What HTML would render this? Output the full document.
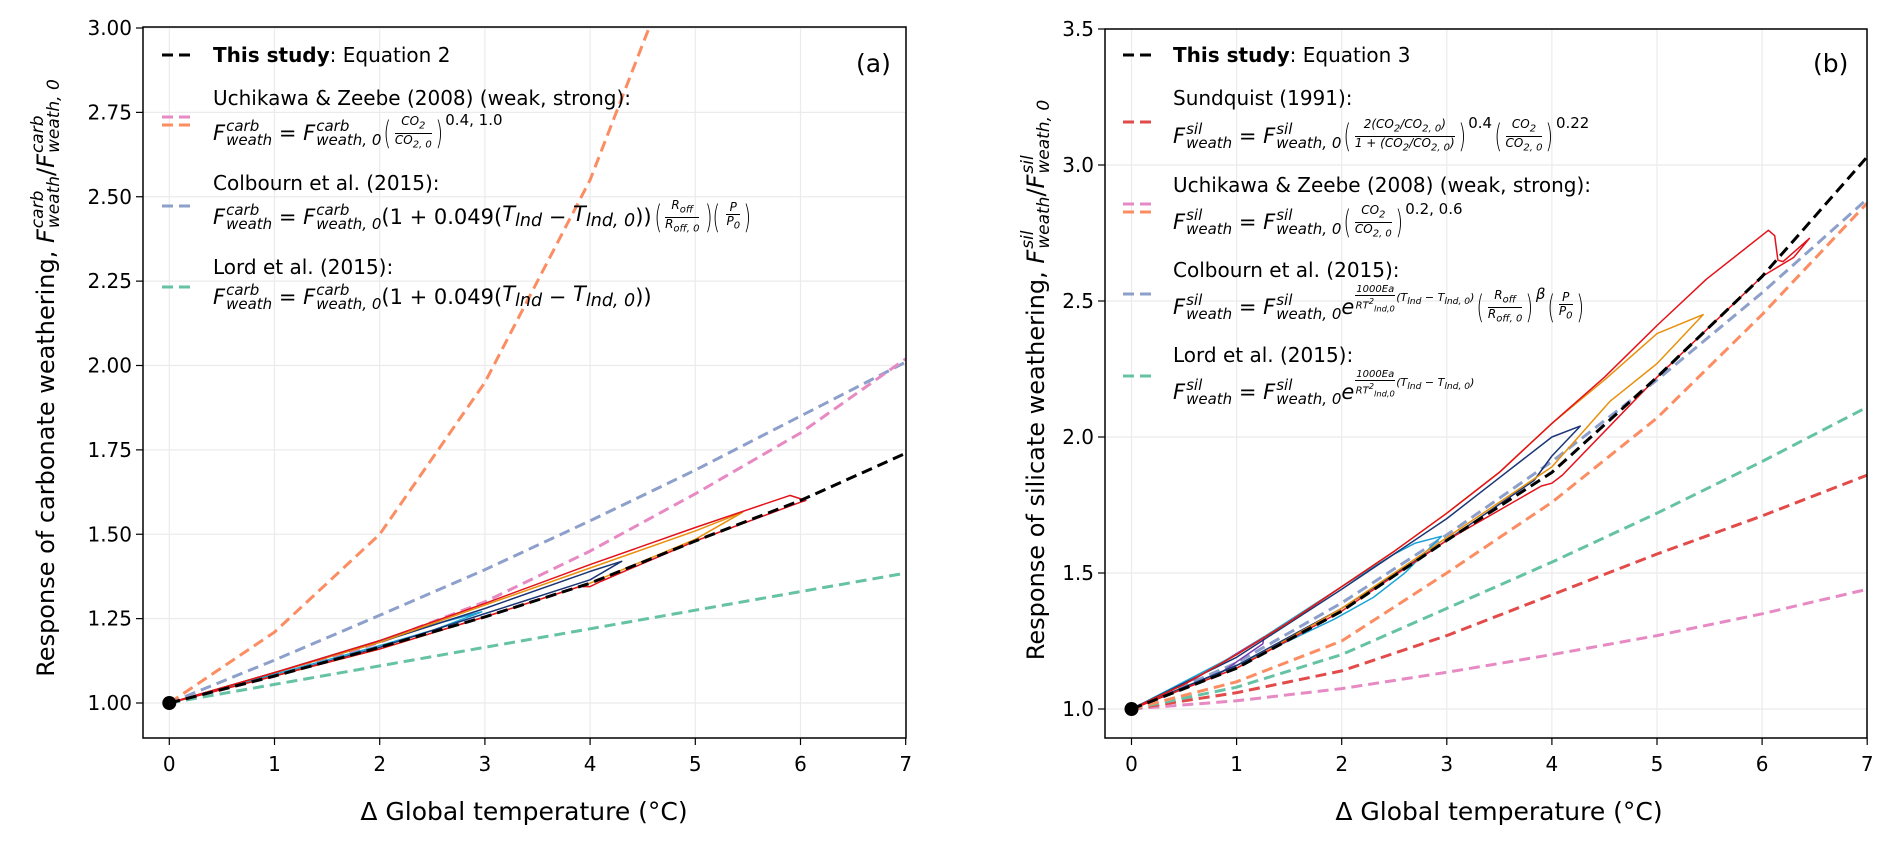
<!DOCTYPE html>
<html><head><meta charset="utf-8">
<style>
body{margin:0;background:#fff;}
#wrap{position:relative;width:1892px;height:845px;overflow:hidden;font-family:"DejaVu Sans","Liberation Sans",sans-serif;color:#000;}
svg{position:absolute;left:0;top:0;}
.leg{position:absolute;font-size:20px;white-space:nowrap;line-height:1;}
.f{position:absolute;font-size:21px;white-space:nowrap;line-height:1;display:flex;align-items:center;}
.i{font-style:italic;}
.ss{display:inline-flex;flex-direction:column;font-size:15px;font-style:italic;line-height:14px;vertical-align:middle;margin-left:1px;}
.fr{display:inline-flex;flex-direction:column;font-size:12px;font-style:italic;text-align:center;line-height:13px;vertical-align:middle;margin:0 1px;}
.fr span:first-child{border-bottom:1px solid #000;padding:0 1px;}
.p{font-size:32px;font-weight:200;transform:scaleX(0.6);display:inline-block;}
.sup{font-size:15px;align-self:flex-start;margin-top:-2px;}
.ylab{position:absolute;font-size:24px;white-space:nowrap;transform-origin:center;transform:translate(-50%,-50%) rotate(-90deg);display:flex;align-items:center;}
.ylab .ss{font-size:17px;line-height:16px;}
.ex{display:inline-flex;align-items:center;align-self:flex-start;margin-top:-4px;font-size:11px;}
.ex .fr{font-size:10px;line-height:10px;}
</style></head>
<body>
<div id="wrap">
<svg id="chart" width="1892" height="845"></svg>

<!-- Panel a legend -->
<div class="leg" style="left:213px;top:45px"><b>This study</b>: Equation 2</div>
<div class="leg" style="left:213px;top:88px">Uchikawa &amp; Zeebe (2008) (weak, strong):</div>
<div class="f" style="left:213px;top:115px;height:36px"><span class="i">F</span><span class="ss"><span>carb</span><span>weath</span></span>&nbsp;=&nbsp;<span class="i">F</span><span class="ss"><span>carb</span><span>weath, 0</span></span><span class="p">(</span><span class="fr"><span>CO<sub>2</sub></span><span>CO<sub>2, 0</sub></span></span><span class="p">)</span><span class="sup">0.4, 1.0</span></div>
<div class="leg" style="left:213px;top:173px">Colbourn et al. (2015):</div>
<div class="f" style="left:213px;top:199px;height:36px"><span class="i">F</span><span class="ss"><span>carb</span><span>weath</span></span>&nbsp;=&nbsp;<span class="i">F</span><span class="ss"><span>carb</span><span>weath, 0</span></span>(1 + 0.049(<span class="i">T<sub>lnd</sub></span>&nbsp;−&nbsp;<span class="i">T<sub>lnd, 0</sub></span>))<span class="p">(</span><span class="fr"><span>R<sub>off</sub></span><span>R<sub>off, 0</sub></span></span><span class="p">)(</span><span class="fr"><span>P</span><span>P<sub>0</sub></span></span><span class="p">)</span></div>
<div class="leg" style="left:213px;top:257px">Lord et al. (2015):</div>
<div class="f" style="left:213px;top:279px;height:36px"><span class="i">F</span><span class="ss"><span>carb</span><span>weath</span></span>&nbsp;=&nbsp;<span class="i">F</span><span class="ss"><span>carb</span><span>weath, 0</span></span>(1 + 0.049(<span class="i">T<sub>lnd</sub></span>&nbsp;−&nbsp;<span class="i">T<sub>lnd, 0</sub></span>))</div>
<div class="leg" style="left:856px;top:51px;font-size:25px">(a)</div>

<!-- Panel b legend -->
<div class="leg" style="left:1173px;top:45px"><b>This study</b>: Equation 3</div>
<div class="leg" style="left:1173px;top:88px">Sundquist (1991):</div>
<div class="f" style="left:1173px;top:118px;height:36px"><span class="i">F</span><span class="ss"><span>sil</span><span>weath</span></span>&nbsp;=&nbsp;<span class="i">F</span><span class="ss"><span>sil</span><span>weath, 0</span></span><span class="p">(</span><span class="fr"><span>2(CO<sub>2</sub>/CO<sub>2, 0</sub>)</span><span>1 + (CO<sub>2</sub>/CO<sub>2, 0</sub>)</span></span><span class="p">)</span><span class="sup">0.4</span><span class="p">(</span><span class="fr"><span>CO<sub>2</sub></span><span>CO<sub>2, 0</sub></span></span><span class="p">)</span><span class="sup">0.22</span></div>
<div class="leg" style="left:1173px;top:175px">Uchikawa &amp; Zeebe (2008) (weak, strong):</div>
<div class="f" style="left:1173px;top:204px;height:36px"><span class="i">F</span><span class="ss"><span>sil</span><span>weath</span></span>&nbsp;=&nbsp;<span class="i">F</span><span class="ss"><span>sil</span><span>weath, 0</span></span><span class="p">(</span><span class="fr"><span>CO<sub>2</sub></span><span>CO<sub>2, 0</sub></span></span><span class="p">)</span><span class="sup">0.2, 0.6</span></div>
<div class="leg" style="left:1173px;top:260px">Colbourn et al. (2015):</div>
<div class="f" style="left:1173px;top:289px;height:36px"><span class="i">F</span><span class="ss"><span>sil</span><span>weath</span></span>&nbsp;=&nbsp;<span class="i">F</span><span class="ss"><span>sil</span><span>weath, 0</span></span><span class="i">e</span><span class="ex"><span class="fr"><span>1000<i>Ea</i></span><span>RT<sup>2</sup><sub>lnd,0</sub></span></span><span class="i">(T<sub>lnd</sub> − T<sub>lnd, 0</sub>)</span></span><span class="p">(</span><span class="fr"><span>R<sub>off</sub></span><span>R<sub>off, 0</sub></span></span><span class="p">)</span><span class="sup i">β</span><span class="p">(</span><span class="fr"><span>P</span><span>P<sub>0</sub></span></span><span class="p">)</span></div>
<div class="leg" style="left:1173px;top:345px">Lord et al. (2015):</div>
<div class="f" style="left:1173px;top:374px;height:36px"><span class="i">F</span><span class="ss"><span>sil</span><span>weath</span></span>&nbsp;=&nbsp;<span class="i">F</span><span class="ss"><span>sil</span><span>weath, 0</span></span><span class="i">e</span><span class="ex"><span class="fr"><span>1000<i>Ea</i></span><span>RT<sup>2</sup><sub>lnd,0</sub></span></span><span class="i">(T<sub>lnd</sub> − T<sub>lnd, 0</sub>)</span></span></div>
<div class="leg" style="left:1813px;top:51px;font-size:25px">(b)</div>

<!-- axis titles -->
<div class="ylab" style="left:46px;top:378px">Response of carbonate weathering,&nbsp;<span class="i">F</span><span class="ss"><span>carb</span><span>weath</span></span>/<span class="i">F</span><span class="ss"><span>carb</span><span>weath, 0</span></span></div>
<div class="ylab" style="left:1036px;top:380px">Response of silicate weathering,&nbsp;<span class="i">F</span><span class="ss"><span>sil</span><span>weath</span></span>/<span class="i">F</span><span class="ss"><span>sil</span><span>weath, 0</span></span></div>
<div class="leg" style="left:524px;top:799px;font-size:25px;transform:translateX(-50%)">Δ Global temperature (°C)</div>
<div class="leg" style="left:1499px;top:799px;font-size:25px;transform:translateX(-50%)">Δ Global temperature (°C)</div>
</div>

<script>
// ---------- data: panel a ----------
const xs = [0,1,2,3,4,5,6,7];
const aStudy = [1,1.08,1.165,1.255,1.355,1.48,1.60,1.74];
const aUZweak = [1,1.079,1.18,1.30,1.45,1.62,1.80,2.02];
const aUZstrongX = [0,1,2,3,4,4.56];
const aUZstrong = [1,1.21,1.50,1.95,2.55,3.0];
const aColbourn = [1,1.127,1.26,1.395,1.54,1.69,1.85,2.01];
const aLord = [1,1.055,1.11,1.165,1.22,1.275,1.33,1.385];
const aLoopRedX = [0,1,2,3,4,5,5.9,6.05,6.0,5,4.1,4,3.9,3,2,1,0];
const aLoopRedY = [1,1.09,1.185,1.295,1.41,1.52,1.615,1.60,1.595,1.48,1.36,1.345,1.345,1.255,1.16,1.08,1];
const aLoopOrX = [0,1,2,3,4,5,5.45,5,4,3,2,1,0];
const aLoopOrY = [1,1.09,1.18,1.29,1.40,1.51,1.565,1.485,1.355,1.255,1.16,1.08,1];
const aLoopNavyX = [0,1,2,3,4,4.3,4,3,2,1,0];
const aLoopNavyY = [1,1.09,1.18,1.28,1.39,1.42,1.365,1.265,1.165,1.08,1];
const aLoopCyanX = [0,1,2,2.6,2.97,2.5,2,1,0];
const aLoopCyanY = [1,1.09,1.185,1.24,1.27,1.215,1.17,1.085,1];
const aLoopPurX = [0,0.5,1.0,0.7,0.3,0];
const aLoopPurY = [1,1.045,1.09,1.06,1.025,1];
const aYTicks = [1.00,1.25,1.50,1.75,2.00,2.25,2.50,2.75,3.00];
const aYTickLabels = ["1.00","1.25","1.50","1.75","2.00","2.25","2.50","2.75","3.00"];
// ---------- data: panel b ----------
const bStudy = [1,1.15,1.36,1.62,1.87,2.22,2.59,3.03];
const bSundquist = [1,1.06,1.14,1.27,1.42,1.57,1.71,1.86];
const bUZweak = [1,1.03,1.075,1.135,1.20,1.27,1.35,1.44];
const bUZstrong = [1,1.10,1.25,1.50,1.76,2.07,2.45,2.86];
const bColbourn = [1,1.17,1.39,1.64,1.91,2.21,2.53,2.875];
const bLord = [1,1.08,1.20,1.37,1.54,1.72,1.91,2.11];
const bLoopRedX = [0,0.5,1,1.5,2,2.5,3,3.5,4,4.5,5,5.47,6.06,6.12,6.15,6.2,6.45,6.3,6,5,4.1,4.0,3.9,3,2,1,0];
const bLoopRedY = [1,1.09,1.20,1.32,1.45,1.58,1.72,1.87,2.05,2.22,2.41,2.58,2.76,2.74,2.65,2.645,2.73,2.66,2.59,2.22,1.86,1.83,1.82,1.62,1.36,1.15,1];
const bLoopOrX = [0,0.5,1,1.5,2,2.5,3,3.5,4,4.5,5,5.44,5,4.55,4,3,2,1,0];
const bLoopOrY = [1,1.09,1.20,1.32,1.45,1.58,1.72,1.87,2.05,2.21,2.38,2.45,2.27,2.13,1.89,1.63,1.37,1.15,1];
const bLoopNavyX = [0,1,2,3,3.5,4,4.27,4,3.83,3,2,1,0];
const bLoopNavyY = [1,1.19,1.44,1.70,1.85,2.00,2.04,1.93,1.84,1.62,1.37,1.16,1];
const bLoopCyanX = [0,1,2,2.5,2.7,2.95,2.6,2.3,1.93,1,0];
const bLoopCyanY = [1,1.20,1.45,1.57,1.61,1.635,1.50,1.41,1.33,1.16,1];
const bLoopPurX = [0,0.6,1.26,1.25,0.8,0];
const bLoopPurY = [1,1.11,1.265,1.24,1.12,1];
const bYTicks = [1.0,1.5,2.0,2.5,3.0,3.5];
const bYTickLabels = ["1.0","1.5","2.0","2.5","3.0","3.5"];
const xTickLabels = ["0","1","2","3","4","5","6","7"];

const NS = "http://www.w3.org/2000/svg";
const svg = document.getElementById('chart');
function mk(tag, attrs, parent){const e=document.createElementNS(NS,tag);for(const k in attrs)e.setAttribute(k,attrs[k]);(parent||svg).appendChild(e);return e;}

const A = {x0:169.3, ux:105.2, y1:703, uy:337.5, left:143, right:906, top:27, bottom:738};
const B = {x0:1131.5, ux:105.1, y1:709, uy:272, left:1105, right:1867, top:29, bottom:738};
function X(P,v){return P.x0+v*P.ux;}
function Y(P,v){return P.y1-(v-1)*P.uy;}

function panel(P, yt, ytl, name){
  const g = mk('g',{});
  
  
  xs.forEach((v,i)=>{
    const x=X(P,v);
    const gl=mk('line',{x1:x,x2:x,y1:P.top,y2:P.bottom,stroke:'#ebebeb','stroke-width':1.2},g);
    
    
    mk('line',{x1:x,x2:x,y1:P.bottom,y2:P.bottom+7,stroke:'#000','stroke-width':1.2},g);
    const t=mk('text',{x:x,y:P.bottom+33,'text-anchor':'middle','font-size':20,'font-family':'DejaVu Sans, Liberation Sans, sans-serif'},g);
    t.textContent=xTickLabels[i];
    
    
  });
  yt.forEach((v,i)=>{
    const y=Y(P,v);
    const gl=mk('line',{x1:P.left,x2:P.right,y1:y,y2:y,stroke:'#ebebeb','stroke-width':1.2},g);
    
    
    mk('line',{x1:P.left-7,x2:P.left,y1:y,y2:y,stroke:'#000','stroke-width':1.2},g);
    const t=mk('text',{x:P.left-11,y:y+7,'text-anchor':'end','font-size':20,'font-family':'DejaVu Sans, Liberation Sans, sans-serif'},g);
    t.textContent=ytl[i];
    
    
  });
}
function clip(P,id){const d=mk('clipPath',{id:id});mk('rect',{x:P.left,y:P.top,width:P.right-P.left,height:P.bottom-P.top},d);}
function line(P, xv, yv, color, dashed, name, cid){
  const d = xv.map((x,i)=>(i?'L':'M')+X(P,x).toFixed(1)+','+Y(P,yv[i]).toFixed(1)).join(' ');
  const p = mk('path',{d:d,fill:'none',stroke:color,'stroke-width':dashed?3:1.5,'stroke-dasharray':dashed?'11 6':'none','stroke-linejoin':'round','clip-path':'url(#'+cid+')'});
  
  
}
function legendLine(x,y,color,name){
  const l=mk('line',{x1:x,x2:x+34,y1:y,y2:y,stroke:color,'stroke-width':3,'stroke-dasharray':'11 6'});
  
  
}
function frame(P,name){
  const r=mk('rect',{x:P.left,y:P.top,width:P.right-P.left,height:P.bottom-P.top,fill:'none',stroke:'#000','stroke-width':1.5});
  
  
}

clip(A,'ca'); clip(B,'cb');
panel(A,aYTicks,aYTickLabels,'panel-a');
panel(B,bYTicks,bYTickLabels,'panel-b');

// panel a series
line(A,xs,aLord,'#66c2a5',true,'lord-line-a','ca');
line(A,xs,aColbourn,'#8da0cb',true,'colbourn-line-a','ca');
line(A,xs,aUZweak,'#e78ac3',true,'uchikawa-weak-line-a','ca');
line(A,aUZstrongX,aUZstrong,'#fc8d62',true,'uchikawa-strong-line-a','ca');
line(A,aLoopPurX,aLoopPurY,'#7b3fb5',false,'loop-purple-a','ca');
line(A,aLoopCyanX,aLoopCyanY,'#1ba3d6',false,'loop-cyan-a','ca');
line(A,aLoopNavyX,aLoopNavyY,'#1b3575',false,'loop-navy-a','ca');
line(A,aLoopOrX,aLoopOrY,'#e8900c',false,'loop-orange-a','ca');
line(A,aLoopRedX,aLoopRedY,'#e3121a',false,'loop-red-a','ca');
line(A,xs,aStudy,'#000',true,'this-study-line-a','ca');

// panel b series
line(B,xs,bUZweak,'#e78ac3',true,'uchikawa-weak-line-b','cb');
line(B,xs,bSundquist,'#e34a4a',true,'sundquist-line-b','cb');
line(B,xs,bLord,'#66c2a5',true,'lord-line-b','cb');
line(B,xs,bUZstrong,'#fc8d62',true,'uchikawa-strong-line-b','cb');
line(B,xs,bColbourn,'#8da0cb',true,'colbourn-line-b','cb');
line(B,bLoopPurX,bLoopPurY,'#7b3fb5',false,'loop-purple-b','cb');
line(B,bLoopCyanX,bLoopCyanY,'#1ba3d6',false,'loop-cyan-b','cb');
line(B,bLoopNavyX,bLoopNavyY,'#1b3575',false,'loop-navy-b','cb');
line(B,bLoopOrX,bLoopOrY,'#e8900c',false,'loop-orange-b','cb');
line(B,bLoopRedX,bLoopRedY,'#e3121a',false,'loop-red-b','cb');
line(B,xs,bStudy,'#000',true,'this-study-line-b','cb');

// origin dots
[A,B].forEach((P)=>{
  const c=mk('circle',{cx:X(P,0),cy:Y(P,1),r:7,fill:'#000'});
  
  
});
frame(A,'panel-a'); frame(B,'panel-b');

// legend markers
legendLine(162,55,'#000','legend-marker-study-a');
legendLine(162,117,'#e78ac3','legend-marker-uz-weak-a');
legendLine(162,125,'#fc8d62','legend-marker-uz-strong-a');
legendLine(162,206,'#8da0cb','legend-marker-colbourn-a');
legendLine(162,287,'#66c2a5','legend-marker-lord-a');
legendLine(1123,55,'#000','legend-marker-study-b');
legendLine(1123,122,'#e34a4a','legend-marker-sundquist-b');
legendLine(1123,204,'#e78ac3','legend-marker-uz-weak-b');
legendLine(1123,212,'#fc8d62','legend-marker-uz-strong-b');
legendLine(1123,294,'#8da0cb','legend-marker-colbourn-b');
legendLine(1123,376,'#66c2a5','legend-marker-lord-b');
</script>
</body></html>
